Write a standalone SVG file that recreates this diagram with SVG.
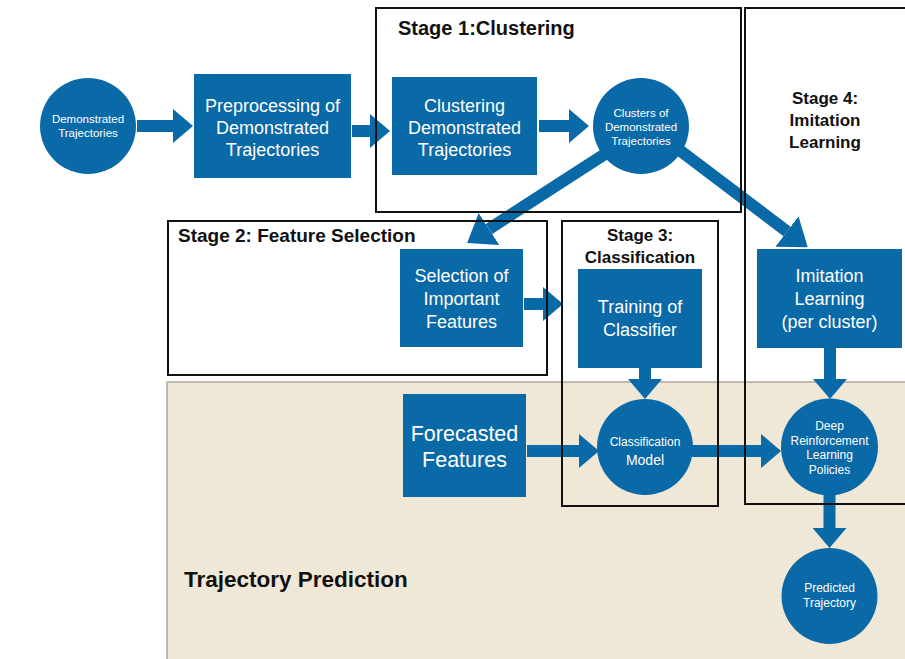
<svg xmlns="http://www.w3.org/2000/svg" width="905" height="659" viewBox="0 0 905 659">
<style>
.node{fill:#0a69a7}
.t{font-family:"Liberation Sans",Arial,sans-serif;fill:#fff;text-anchor:middle}
.lbl{font-family:"Liberation Sans",Arial,sans-serif;font-weight:bold;fill:#111}
.frame{fill:none;stroke:#111;stroke-width:2}
.shaft{stroke:#0a69a7;stroke-width:12;fill:none}
</style>
<defs>
<marker id="ah" markerUnits="userSpaceOnUse" orient="auto" markerWidth="20" markerHeight="34" viewBox="0 0 20 34" refX="0" refY="17">
<path d="M0,0 L20,17 L0,34 Z" fill="#0a69a7"/>
</marker>
<marker id="ahb" markerUnits="userSpaceOnUse" orient="auto" markerWidth="26" markerHeight="38" viewBox="0 0 26 38" refX="0" refY="19">
<path d="M0,0 L26,19 L0,38 Z" fill="#0a69a7"/>
</marker>
</defs>
<rect width="905" height="659" fill="#fff"/>
<g id="trajectory-prediction">
<rect x="167" y="382" width="745" height="285" fill="#f0e8d6" stroke="#aaa69e" stroke-width="1.5"/>
<text class="lbl" x="184" y="587" font-size="22.5">Trajectory Prediction</text>
</g>
<g id="connectors">
<line class="shaft" x1="137" y1="126" x2="173" y2="126" marker-end="url(#ah)"/>
<line class="shaft" x1="352" y1="131" x2="370" y2="131" marker-end="url(#ah)"/>
<line class="shaft" x1="539" y1="126" x2="569" y2="126" marker-end="url(#ah)"/>
<line class="shaft" x1="605" y1="154" x2="489" y2="229" marker-end="url(#ahb)"/>
<line class="shaft" x1="678" y1="149" x2="787" y2="231.5" marker-end="url(#ahb)"/>
<line class="shaft" x1="524" y1="304" x2="543" y2="304" marker-end="url(#ah)"/>
<line class="shaft" x1="645" y1="367" x2="645" y2="379" marker-end="url(#ah)"/>
<line class="shaft" x1="527" y1="451" x2="579" y2="451" marker-end="url(#ah)"/>
<line class="shaft" x1="692" y1="451" x2="761" y2="451" marker-end="url(#ah)"/>
<line class="shaft" x1="830" y1="347" x2="830" y2="379" marker-end="url(#ah)"/>
<line class="shaft" x1="829.5" y1="494" x2="829.5" y2="528" marker-end="url(#ah)"/>
</g>
<g id="demonstrated-trajectories">
<circle class="node" cx="88" cy="126" r="48"/>
<text class="t" font-size="11.5"><tspan x="88" y="123">Demonstrated</tspan><tspan x="88" y="137">Trajectories</tspan></text>
</g>
<g id="preprocessing">
<rect class="node" x="194" y="74" width="157" height="104"/>
<text class="t" font-size="18"><tspan x="272.5" y="112">Preprocessing of</tspan><tspan x="272.5" y="134">Demonstrated</tspan><tspan x="272.5" y="156">Trajectories</tspan></text>
</g>
<g id="clustering">
<rect class="node" x="392" y="77" width="145" height="98"/>
<text class="t" font-size="18"><tspan x="464.5" y="112">Clustering</tspan><tspan x="464.5" y="134">Demonstrated</tspan><tspan x="464.5" y="156">Trajectories</tspan></text>
</g>
<g id="clusters">
<circle class="node" cx="641" cy="126" r="48"/>
<text class="t" font-size="11.5"><tspan x="641" y="117">Clusters of</tspan><tspan x="641" y="131">Demonstrated</tspan><tspan x="641" y="145">Trajectories</tspan></text>
</g>
<g id="selection">
<rect class="node" x="400" y="249" width="123" height="98"/>
<text class="t" font-size="18"><tspan x="461.5" y="282">Selection of</tspan><tspan x="461.5" y="305">Important</tspan><tspan x="461.5" y="328">Features</tspan></text>
</g>
<g id="training">
<rect class="node" x="578" y="269" width="124" height="99"/>
<text class="t" font-size="18"><tspan x="640" y="313">Training of</tspan><tspan x="640" y="336">Classifier</tspan></text>
</g>
<g id="imitation">
<rect class="node" x="757" y="249" width="145" height="99"/>
<text class="t" font-size="18"><tspan x="829.5" y="282">Imitation</tspan><tspan x="829.5" y="305">Learning</tspan><tspan x="829.5" y="328">(per cluster)</tspan></text>
</g>
<g id="forecasted">
<rect class="node" x="403" y="394" width="123" height="103"/>
<text class="t" font-size="21.5"><tspan x="464.5" y="441">Forecasted</tspan><tspan x="464.5" y="467">Features</tspan></text>
</g>
<g id="classification-model">
<circle class="node" cx="645" cy="447" r="48"/>
<text class="t"><tspan x="645" y="446" font-size="12">Classification</tspan><tspan x="645" y="465" font-size="14">Model</tspan></text>
</g>
<g id="drl">
<circle class="node" cx="829.5" cy="447" r="48.5"/>
<text class="t" font-size="12"><tspan x="829.5" y="430">Deep</tspan><tspan x="829.5" y="444.5">Reinforcement</tspan><tspan x="829.5" y="459">Learning</tspan><tspan x="829.5" y="473.5">Policies</tspan></text>
</g>
<g id="predicted">
<circle class="node" cx="829.5" cy="596" r="48"/>
<text class="t" font-size="12"><tspan x="829.5" y="592">Predicted</tspan><tspan x="829.5" y="607">Trajectory</tspan></text>
</g>
<g id="stage1">
<rect class="frame" x="376" y="8" width="365" height="204"/>
<text class="lbl" x="398" y="35" font-size="20">Stage 1:Clustering</text>
</g>
<g id="stage2">
<rect class="frame" x="168" y="221" width="379" height="154"/>
<text class="lbl" x="178" y="242" font-size="19">Stage 2: Feature Selection</text>
</g>
<g id="stage3">
<rect class="frame" x="562" y="221" width="156" height="285"/>
<text class="lbl" font-size="17" text-anchor="middle"><tspan x="640" y="241">Stage 3:</tspan><tspan x="640" y="263">Classification</tspan></text>
</g>
<g id="stage4">
<rect class="frame" x="745" y="8" width="170" height="496"/>
<text class="lbl" font-size="17" text-anchor="middle"><tspan x="825" y="104">Stage 4:</tspan><tspan x="825" y="126">Imitation</tspan><tspan x="825" y="148">Learning</tspan></text>
</g>
</svg>
